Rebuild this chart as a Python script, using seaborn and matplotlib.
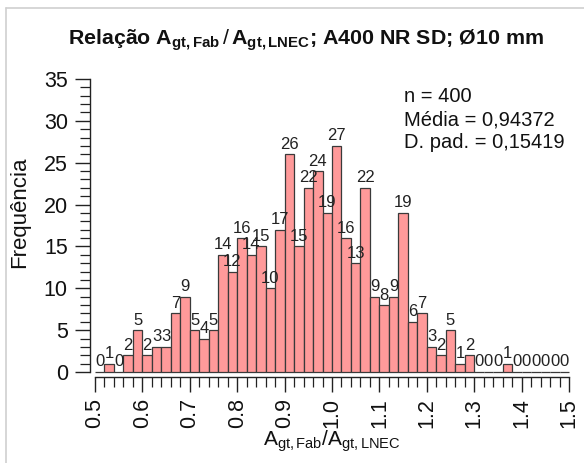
import matplotlib
matplotlib.use("Agg")
import matplotlib.pyplot as plt
import seaborn as sns
import numpy as np
from matplotlib.ticker import MultipleLocator
from matplotlib.lines import Line2D

# ---- data ----
bin_edges = [0.50, 0.52, 0.54, 0.56, 0.58, 0.60, 0.62, 0.64, 0.66, 0.68,
             0.70, 0.72, 0.74, 0.76, 0.78, 0.80, 0.82, 0.84, 0.86, 0.88,
             0.90, 0.92, 0.94, 0.96, 0.98, 1.00, 1.02, 1.04, 1.06, 1.08,
             1.10, 1.12, 1.14, 1.16, 1.18, 1.20, 1.22, 1.24, 1.26, 1.28,
             1.30, 1.32, 1.34, 1.36, 1.38, 1.40, 1.42, 1.44, 1.46, 1.48, 1.50]
counts = [0, 1, 0, 2, 5, 2, 3, 3, 7, 9,
          5, 4, 5, 14, 12, 16, 14, 15, 10, 17,
          26, 15, 22, 24, 19, 27, 16, 13, 22, 9,
          8, 9, 19, 6, 7, 3, 2, 5, 1, 2,
          0, 0, 0, 1, 0, 0, 0, 0, 0, 0]
x_ticks = [0.5, 0.6, 0.7, 0.8, 0.9, 1.0, 1.1, 1.2, 1.3, 1.4, 1.5]
y_ticks = [0, 5, 10, 15, 20, 25, 30, 35]
stats_lines = ["n = 400", "Média = 0,94372", "D. pad. = 0,15419"]
title = r"Relação $\mathbf{A}_{\mathbf{gt,Fab}}$$\,/\,$$\mathbf{A}_{\mathbf{gt,LNEC}}$; A400 NR SD; Ø10 mm"
xlabel = r"$\mathrm{A}_{\mathrm{gt,Fab}}/\mathrm{A}_{\mathrm{gt,LNEC}}$"
ylabel = "Frequência"

# ---- style ----
sns.set_theme(style="ticks")
plt.rcParams["font.family"] = ["Liberation Sans", "DejaVu Sans"]
plt.rcParams["mathtext.fontset"] = "custom"
plt.rcParams["mathtext.rm"] = "Liberation Sans"
plt.rcParams["mathtext.bf"] = "Liberation Sans:bold"
plt.rcParams["mathtext.it"] = "Liberation Sans:italic"

fig = plt.figure(figsize=(5.84, 4.63), dpi=100)
ax = fig.add_axes([0.1541, 0.1857, 0.8243, 0.6491])

centers = [(bin_edges[i] + bin_edges[i + 1]) / 2 for i in range(len(counts))]
sns.histplot(x=centers, weights=counts, bins=bin_edges, ax=ax,
             color="#ff9a9a", edgecolor="#3a3a3a", linewidth=0.9, alpha=1.0)

for c, n in zip(centers, counts):
    ax.text(c, n + 0.3, str(n), ha="center", va="bottom", fontsize=12, color="#222222")

ax.set_xlim(0.4895, 1.505)
ax.set_ylim(-0.6, 35.3)
ax.spines["top"].set_visible(False)
ax.spines["right"].set_visible(False)
ax.spines["left"].set_bounds(0, 35)
ax.spines["bottom"].set_bounds(0.5, 1.5)
for s in ("left", "bottom"):
    ax.spines[s].set_color("#222222")
    ax.spines[s].set_linewidth(1.0)

ax.set_xticks(x_ticks)
ax.set_xticklabels([f"{v:.1f}" for v in x_ticks], rotation=90)
ax.xaxis.set_minor_locator(MultipleLocator(0.02))
ax.set_yticks(y_ticks)
ax.yaxis.set_minor_locator(MultipleLocator(1))
ax.tick_params(axis="both", which="major", direction="out", length=11, width=1.0,
               color="#222222", labelsize=15.5, labelcolor="#111111")
ax.tick_params(axis="x", which="major", pad=4)
ax.tick_params(axis="y", which="major", pad=5)
ax.tick_params(axis="both", which="minor", direction="out", length=7, width=0.9, color="#222222")
ax.set_xlabel("")
ax.set_ylabel("")
ax.grid(False)

fig.text(306 / 584, 1 - 40 / 463, title, ha="center", va="center",
         fontsize=15.4, fontweight="bold", color="#111111")
fig.text(332 / 584, 1 - 441 / 463, xlabel, ha="center", va="center", fontsize=15, color="#111111")
fig.text(20 / 584, 1 - 212 / 463, ylabel, ha="center", va="center", rotation=90, fontsize=16, color="#111111")

for i, line in enumerate(stats_lines):
    fig.text(404 / 584, 1 - (97 + 23 * i) / 463, line, ha="left", va="center",
             fontsize=14.5, color="#111111")

# light frame lines of the original screenshot
fig.add_artist(Line2D([5.5 / 584, 5.5 / 584], [0, 1 - 7.5 / 463], transform=fig.transFigure,
                      color="#cfcfcf", linewidth=1.2))
fig.add_artist(Line2D([5.5 / 584, 1], [1 - 7.5 / 463, 1 - 7.5 / 463], transform=fig.transFigure,
                      color="#cfcfcf", linewidth=1.2))

fig.savefig("out.png", dpi=100)
